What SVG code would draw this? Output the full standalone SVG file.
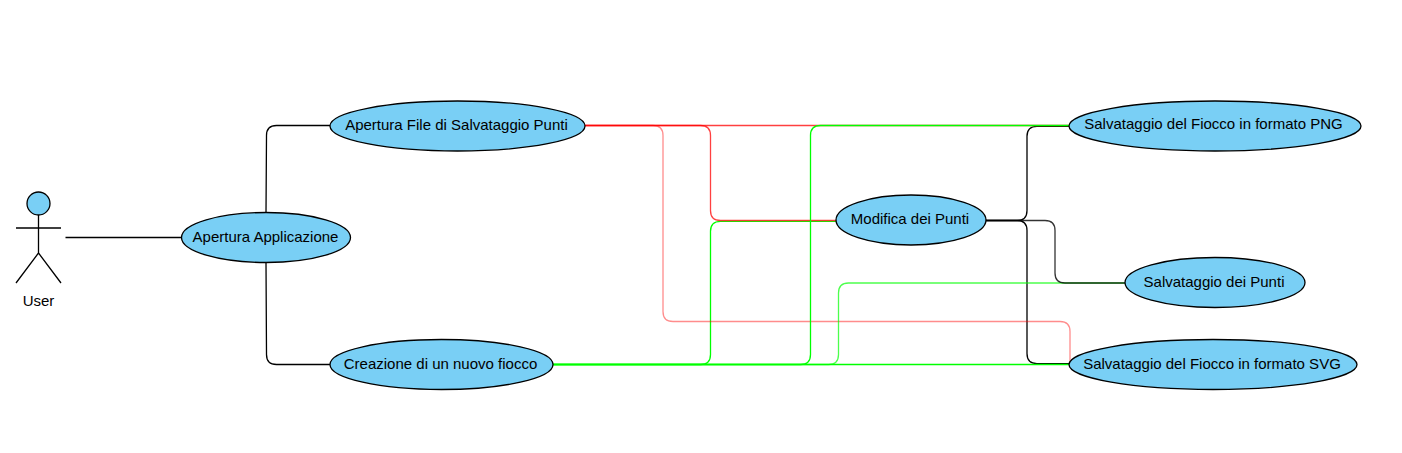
<svg xmlns="http://www.w3.org/2000/svg" width="1402" height="453" viewBox="0 0 1402 453">
<style>
.uc{fill:#79cff5;stroke:#000;stroke-width:1.3}
.t{font-family:"Liberation Sans",Arial,sans-serif;font-size:15px;fill:#000;text-anchor:middle}
.c{fill:none;stroke-width:1.3}
.k{stroke:#000}.kt{stroke:#000;stroke-opacity:.8}.r{stroke:#ff0000;stroke-opacity:.75}.p{stroke:#ff0000;stroke-opacity:.45}.g{stroke:#00ff00}.gl{stroke:#00ff00;stroke-opacity:.7}
</style>
<rect width="1402" height="453" fill="#fff"/>
<g id="connectors">
<path class="c k" d="M65.500 237.500H181.500"/>
<path class="c k" d="M266 212.500L266.500 135.500Q266.500 125.500 276.500 125.500H330"/>
<path class="c k" d="M266 262.500L266.500 354.500Q266.500 364.500 276.500 364.500H330"/>
<path class="c k" d="M986 220.500H1017Q1027 220.500 1027 210.500V136.300Q1027 126.300 1037 126.300H1069"/>
<path class="c k" d="M986 220.500H1017Q1027 220.500 1027 230.500V353.600Q1027 363.600 1037 363.600H1069"/>
<path class="c g" d="M553 364.500H700.500Q710.500 364.500 710.500 354.500V231.300Q710.500 221.300 720.500 221.300H836"/>
<path class="c r" d="M585 125.500H700.500Q710.500 125.500 710.500 135.500V210.500Q710.500 220.500 720.500 220.500H836"/>
<path class="c r" d="M585 125.500H1069"/>
<path class="c p" d="M585 125.500H653Q663 125.500 663 135.500V311.500Q663 321.500 673 321.500H1060Q1070 321.500 1070 331.500V364.500"/>
<path class="c g" d="M553 364.500H800.500Q810.500 364.500 810.500 354.500V135.500Q810.500 125.500 820.500 125.500H1069"/>
<path class="c gl" d="M553 364.500H828.500Q838.500 364.500 838.500 354.500V293Q838.500 283 848.500 283H1125"/>
<path class="c g" d="M553 364.500H1069"/>
<path class="c kt" d="M986 220.500H1045Q1055 220.500 1055 230.500V273Q1055 283 1065 283H1125"/>
</g>
<g id="actor-user">
<circle class="uc" cx="38.500" cy="203.500" r="11.500"/>
<path fill="none" stroke="#000" stroke-width="1.300" d="M38.500 215V253M16 228H61M38.500 253L16 283M38.500 253L61 283"/>
<text class="t" x="38.500" y="306">User</text>
</g>
<g id="apertura-applicazione"><ellipse class="uc" cx="266" cy="237.500" rx="84.500" ry="25"/><text class="t" x="265.500" y="242">Apertura Applicazione</text></g>
<g id="apertura-file"><ellipse class="uc" cx="457.500" cy="126" rx="127.500" ry="25"/><text class="t" x="456.500" y="130">Apertura File di Salvataggio Punti</text></g>
<g id="creazione"><ellipse class="uc" cx="441.500" cy="364.500" rx="111.500" ry="25"/><text class="t" x="440.500" y="369">Creazione di un nuovo fiocco</text></g>
<g id="modifica"><ellipse class="uc" cx="911" cy="220" rx="75" ry="25"/><text class="t" x="910" y="224">Modifica dei Punti</text></g>
<g id="salva-png"><ellipse class="uc" cx="1215" cy="126" rx="146" ry="25"/><text class="t" x="1213.500" y="129">Salvataggio del Fiocco in formato PNG</text></g>
<g id="salva-punti"><ellipse class="uc" cx="1215" cy="282.500" rx="90" ry="25"/><text class="t" x="1214" y="287">Salvataggio dei Punti</text></g>
<g id="salva-svg"><ellipse class="uc" cx="1213" cy="364.500" rx="144" ry="25"/><text class="t" x="1212" y="369">Salvataggio del Fiocco in formato SVG</text></g>
</svg>
